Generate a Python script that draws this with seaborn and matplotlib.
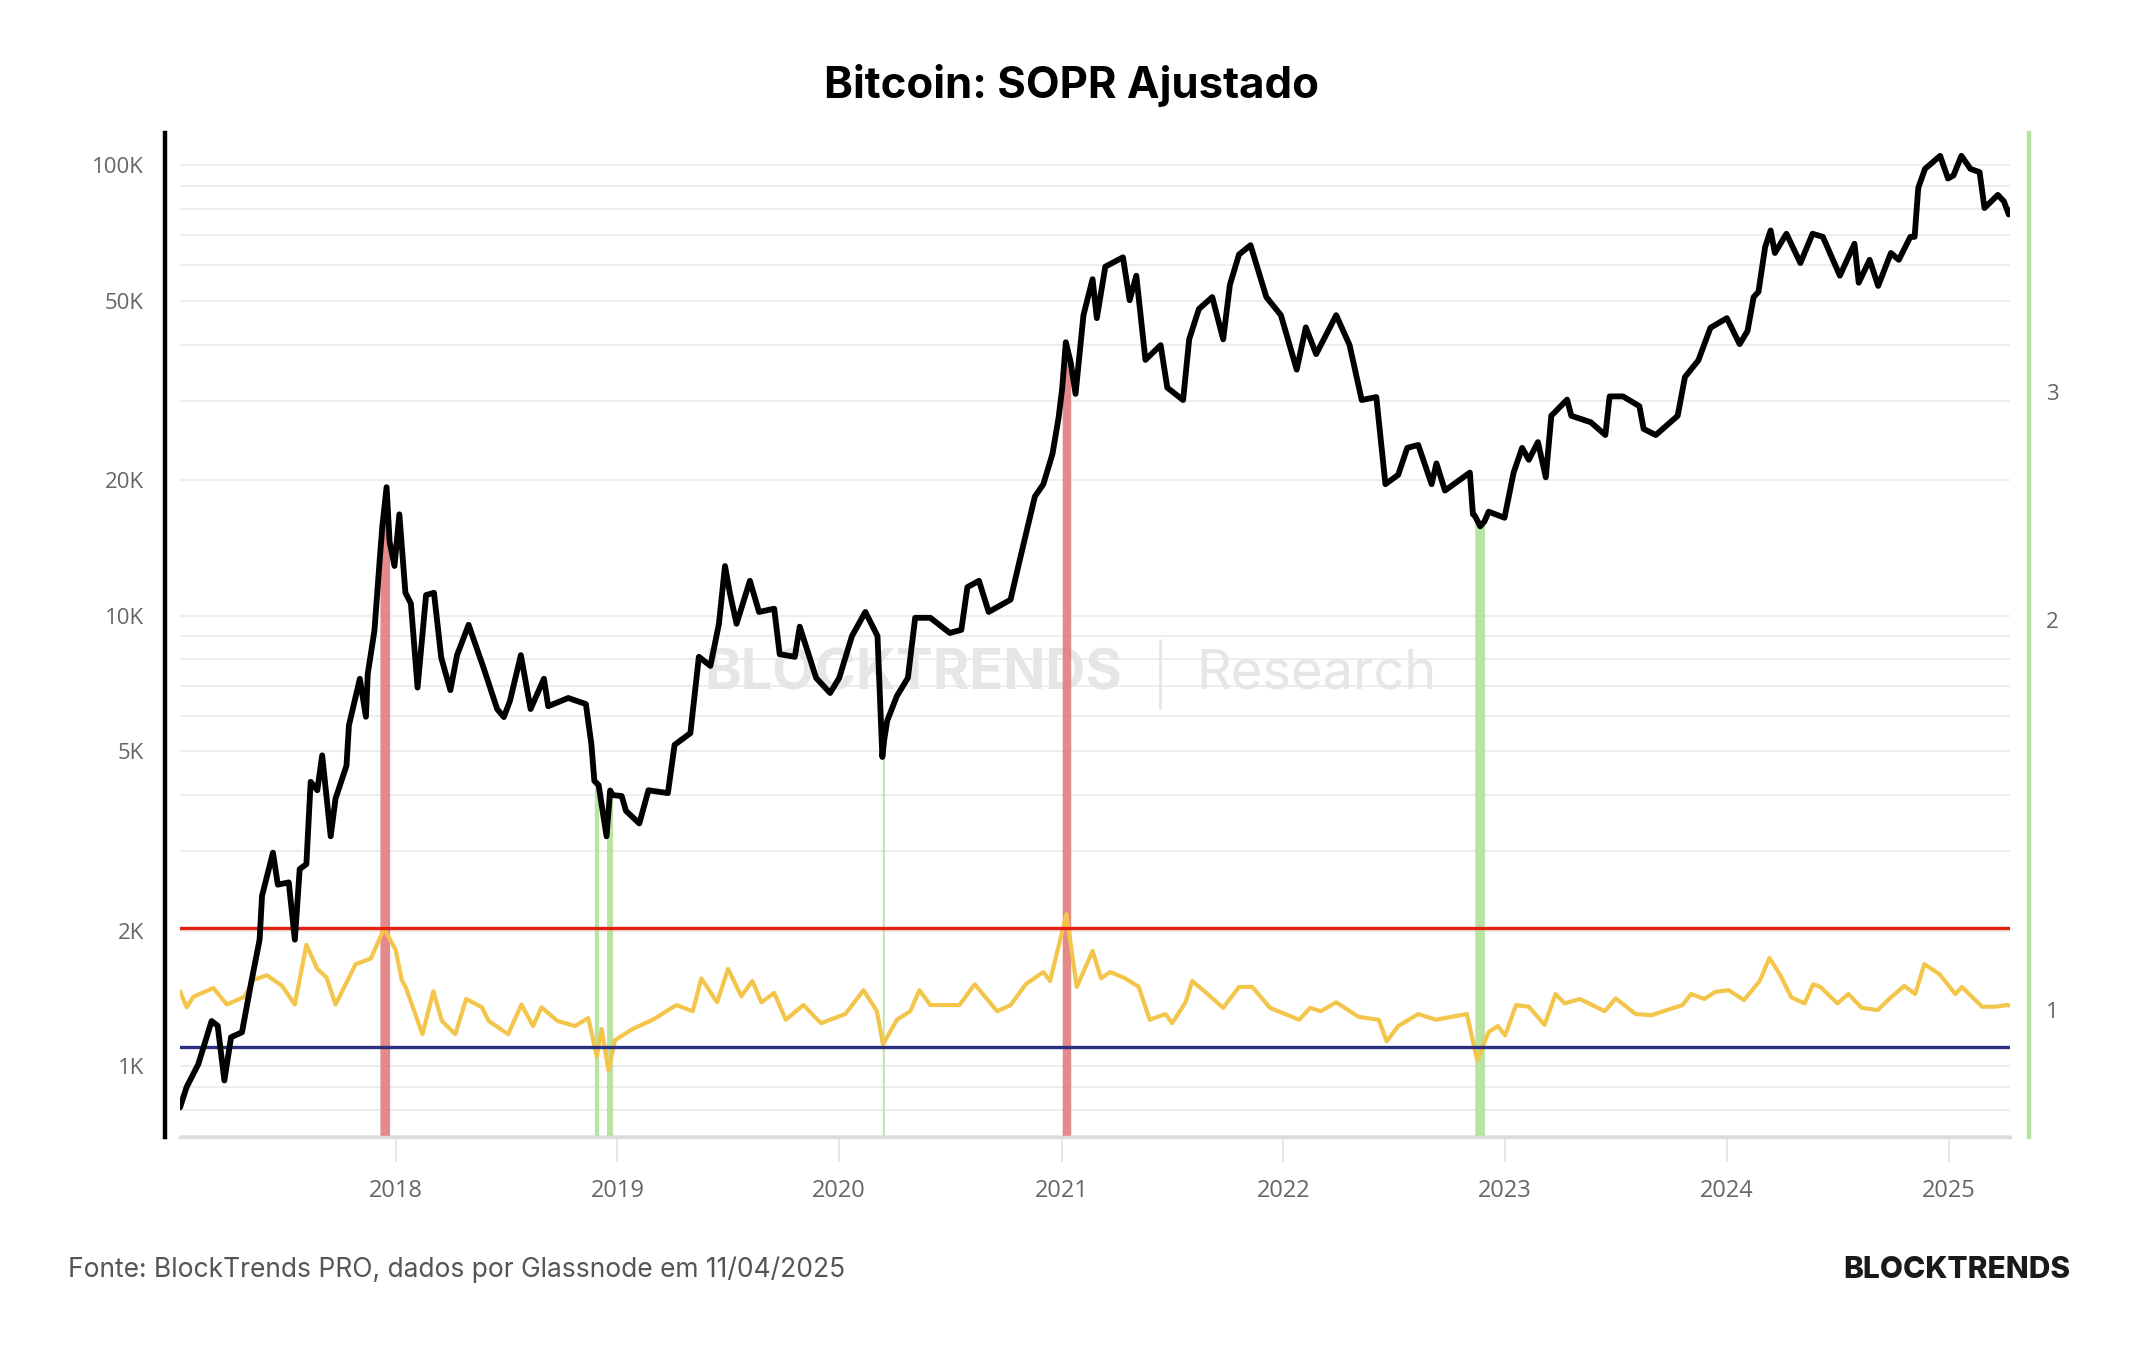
import matplotlib
matplotlib.use('Agg')
import matplotlib.pyplot as plt
import matplotlib.ticker as mticker
from matplotlib.lines import Line2D
import numpy as np
import pandas as pd
import seaborn as sns

# Bitcoin price (USD)
price_dates = [
    '2017-01-11', '2017-01-22', '2017-02-10', '2017-03-04', '2017-03-14', '2017-03-25', '2017-04-05',
    '2017-04-23', '2017-05-08', '2017-05-22', '2017-05-26', '2017-06-13', '2017-06-21', '2017-07-09',
    '2017-07-19', '2017-07-27', '2017-08-07', '2017-08-14', '2017-08-25', '2017-09-02', '2017-09-16',
    '2017-09-24', '2017-10-12', '2017-10-16', '2017-11-03', '2017-11-13', '2017-11-16', '2017-11-27',
    '2017-12-06', '2017-12-10', '2017-12-17', '2017-12-22', '2017-12-30', '2018-01-07', '2018-01-17',
    '2018-01-26', '2018-02-06', '2018-02-20', '2018-03-05', '2018-03-17', '2018-04-01', '2018-04-12',
    '2018-05-01', '2018-05-26', '2018-06-17', '2018-06-28', '2018-07-08', '2018-07-26', '2018-08-11',
    '2018-09-02', '2018-09-09', '2018-10-12', '2018-11-10', '2018-11-19', '2018-11-24', '2018-12-01',
    '2018-12-14', '2018-12-20', '2018-12-24', '2019-01-08', '2019-01-15', '2019-02-06', '2019-02-21',
    '2019-03-25', '2019-04-05', '2019-05-01', '2019-05-15', '2019-06-03', '2019-06-17', '2019-06-27',
    '2019-07-05', '2019-07-16', '2019-08-07', '2019-08-22', '2019-09-16', '2019-09-25', '2019-10-20',
    '2019-10-28', '2019-11-24', '2019-12-17', '2020-01-01', '2020-01-22', '2020-02-13', '2020-03-04',
    '2020-03-12', '2020-03-15', '2020-03-20', '2020-04-05', '2020-04-23', '2020-05-05', '2020-05-30',
    '2020-07-01', '2020-07-20', '2020-07-30', '2020-08-18', '2020-09-03', '2020-10-09', '2020-10-23',
    '2020-11-18', '2020-12-02', '2020-12-17', '2020-12-27', '2021-01-02', '2021-01-08', '2021-01-16',
    '2021-01-24', '2021-02-06', '2021-02-21', '2021-02-28', '2021-03-14', '2021-04-12', '2021-04-23',
    '2021-05-04', '2021-05-19', '2021-06-13', '2021-06-24', '2021-07-20', '2021-07-30', '2021-08-15',
    '2021-09-06', '2021-09-24', '2021-10-05', '2021-10-20', '2021-11-08', '2021-12-04', '2021-12-28',
    '2022-01-23', '2022-02-07', '2022-02-24', '2022-03-29', '2022-04-20', '2022-05-10', '2022-06-03',
    '2022-06-18', '2022-07-09', '2022-07-24', '2022-08-11', '2022-09-02', '2022-09-10', '2022-09-24',
    '2022-11-04', '2022-11-09', '2022-11-12', '2022-11-21', '2022-11-28', '2022-12-05', '2022-12-31',
    '2023-01-15', '2023-01-29', '2023-02-09', '2023-02-24', '2023-03-09', '2023-03-18', '2023-04-13',
    '2023-04-20', '2023-05-22', '2023-06-15', '2023-06-22', '2023-07-14', '2023-08-10', '2023-08-17',
    '2023-09-06', '2023-10-12', '2023-10-24', '2023-11-15', '2023-12-05', '2024-01-01', '2024-01-22',
    '2024-02-04', '2024-02-14', '2024-02-22', '2024-03-04', '2024-03-13', '2024-03-20', '2024-04-08',
    '2024-05-01', '2024-05-21', '2024-06-07', '2024-07-05', '2024-07-29', '2024-08-05', '2024-08-23',
    '2024-09-06', '2024-09-27', '2024-10-10', '2024-10-29', '2024-11-05', '2024-11-11', '2024-11-22',
    '2024-12-17', '2024-12-30', '2025-01-08', '2025-01-21', '2025-02-05', '2025-02-20', '2025-02-28',
    '2025-03-22', '2025-04-01', '2025-04-09', '2025-04-11',
]
price_values = [
    810, 900, 1010, 1260, 1230, 930, 1160,
    1190, 1530, 1910, 2390, 2980, 2530, 2560,
    1910, 2740, 2810, 4280, 4100, 4900, 3240,
    3930, 4650, 5710, 7250, 5970, 7430, 9270,
    13500, 15800, 19300, 14600, 12900, 16800, 11250,
    10650, 6930, 11120, 11250, 8070, 6840, 8180,
    9550, 7640, 6210, 5960, 6470, 8180, 6210,
    7250, 6300, 6570, 6370, 5200, 4300, 4210,
    3240, 4095, 4000, 3980, 3690, 3460, 4100,
    4040, 5170, 5490, 8110, 7740, 9600, 12900,
    11240, 9600, 11960, 10200, 10370, 8220, 8110,
    9460, 7280, 6740, 7280, 9020, 10200, 9020,
    4860, 5300, 5850, 6640, 7280, 9900, 9900,
    9160, 9310, 11580, 11960, 10200, 10860, 13100,
    18400, 19600, 22880, 27500, 32000, 40500, 36500,
    31100, 46500, 55900, 45800, 59600, 62500, 50200,
    56900, 37000, 39900, 32100, 30130, 41100, 48000,
    51000, 41100, 54300, 63400, 66500, 51000, 46500,
    35200, 43700, 38100, 46500, 39900, 30130, 30600,
    19600, 20560, 23600, 23950, 19600, 21800, 18970,
    20800, 16800, 16700, 15800, 16200, 17030, 16510,
    20800, 23600, 22200, 24300, 20300, 27800, 30200,
    27800, 26900, 25200, 30700, 30700, 29200, 26000,
    25200, 27800, 33900, 36900, 43600, 45800, 40100,
    42900, 51000, 52400, 65900, 71700, 63900, 70500,
    60700, 70500, 69400, 56900, 67000, 54900, 61700,
    54000, 63900, 61700, 69400, 69400, 89100, 98200,
    105000, 93500, 95000, 105000, 98200, 96600, 80400,
    86000, 83200, 77800, 79500,
]

# Adjusted SOPR (right axis)
sopr_dates = [
    '2017-01-11', '2017-01-22', '2017-02-02', '2017-03-07', '2017-03-29', '2017-04-27', '2017-05-12',
    '2017-06-03', '2017-06-28', '2017-07-19', '2017-08-07', '2017-08-25', '2017-09-09', '2017-09-24',
    '2017-10-27', '2017-11-21', '2017-12-13', '2018-01-01', '2018-01-11', '2018-01-18', '2018-02-14',
    '2018-03-04', '2018-03-18', '2018-04-09', '2018-04-27', '2018-05-23', '2018-06-03', '2018-07-05',
    '2018-07-27', '2018-08-15', '2018-08-29', '2018-09-24', '2018-10-23', '2018-11-14', '2018-11-28',
    '2018-12-06', '2018-12-17', '2018-12-28', '2019-01-26', '2019-02-28', '2019-04-08', '2019-05-05',
    '2019-05-19', '2019-06-14', '2019-07-02', '2019-07-24', '2019-08-11', '2019-08-26', '2019-09-16',
    '2019-10-05', '2019-11-03', '2019-12-02', '2020-01-11', '2020-02-10', '2020-03-03', '2020-03-13',
    '2020-04-05', '2020-04-27', '2020-05-12', '2020-05-30', '2020-07-17', '2020-08-11', '2020-09-17',
    '2020-10-09', '2020-11-03', '2020-12-02', '2020-12-13', '2021-01-09', '2021-01-26', '2021-02-21',
    '2021-03-07', '2021-03-22', '2021-04-16', '2021-05-08', '2021-05-26', '2021-06-21', '2021-07-02',
    '2021-07-24', '2021-08-04', '2021-08-22', '2021-09-24', '2021-10-20', '2021-11-11', '2021-12-10',
    '2022-01-27', '2022-02-14', '2022-03-04', '2022-03-29', '2022-05-05', '2022-06-07', '2022-06-20',
    '2022-07-09', '2022-08-11', '2022-09-09', '2022-10-30', '2022-11-16', '2022-12-05', '2022-12-20',
    '2023-01-01', '2023-01-19', '2023-02-09', '2023-03-07', '2023-03-25', '2023-04-09', '2023-05-04',
    '2023-06-14', '2023-07-02', '2023-08-04', '2023-08-30', '2023-09-24', '2023-10-20', '2023-11-03',
    '2023-11-25', '2023-12-13', '2024-01-04', '2024-01-29', '2024-02-24', '2024-03-11', '2024-03-28',
    '2024-04-16', '2024-05-08', '2024-05-22', '2024-06-03', '2024-07-01', '2024-07-19', '2024-08-10',
    '2024-09-05', '2024-09-27', '2024-10-19', '2024-11-06', '2024-11-21', '2024-12-16', '2025-01-11',
    '2025-01-22', '2025-02-24', '2025-03-17', '2025-04-06', '2025-04-11',
]
sopr_values = [
    1.034, 1.005, 1.024, 1.040, 1.010, 1.024, 1.055,
    1.064, 1.044, 1.010, 1.123, 1.076, 1.060, 1.010,
    1.085, 1.096, 1.156, 1.113, 1.055, 1.040, 0.958,
    1.034, 0.981, 0.958, 1.020, 1.005, 0.981, 0.958,
    1.010, 0.972, 1.005, 0.981, 0.972, 0.986, 0.921,
    0.967, 0.899, 0.948, 0.967, 0.983, 1.009, 0.998,
    1.058, 1.014, 1.076, 1.025, 1.053, 1.014, 1.031,
    0.983, 1.009, 0.977, 0.993, 1.036, 0.998, 0.941,
    0.983, 0.998, 1.036, 1.009, 1.009, 1.047, 0.998,
    1.009, 1.047, 1.070, 1.053, 1.186, 1.042, 1.111,
    1.058, 1.070, 1.058, 1.042, 0.983, 0.993, 0.977,
    1.014, 1.053, 1.036, 1.004, 1.042, 1.042, 1.004,
    0.983, 1.004, 0.998, 1.014, 0.988, 0.983, 0.946,
    0.972, 0.993, 0.983, 0.993, 0.915, 0.962, 0.972,
    0.956, 1.009, 1.006, 0.974, 1.029, 1.012, 1.020,
    0.998, 1.021, 0.993, 0.991, 1.000, 1.009, 1.029,
    1.020, 1.033, 1.036, 1.018, 1.053, 1.097, 1.066,
    1.023, 1.012, 1.047, 1.042, 1.012, 1.029, 1.004,
    1.000, 1.023, 1.044, 1.029, 1.085, 1.066, 1.029,
    1.042, 1.006, 1.006, 1.009, 1.008,
]

sopr_high = 1.157
sopr_low = 0.937

# periods where SOPR crossed the thresholds
red_periods = [('2017-12-06', '2017-12-22'), ('2021-01-02', '2021-01-16')]
green_periods = [('2018-11-24', '2018-12-01'), ('2018-12-14', '2018-12-24'),
                 ('2020-03-12', '2020-03-15'), ('2022-11-12', '2022-11-28')]

price_ticks = [1000, 2000, 5000, 10000, 20000, 50000, 100000]
price_tick_labels = ['1K', '2K', '5K', '10K', '20K', '50K', '100K']
sopr_ticks = [1, 2, 3]
years = list(range(2018, 2026))

price_df = pd.DataFrame({'date': pd.to_datetime(price_dates), 'price': price_values})
sopr_df = pd.DataFrame({'date': pd.to_datetime(sopr_dates), 'sopr': sopr_values})

sns.set_theme(style='white')
plt.rcParams['font.family'] = ['Open Sans', 'DejaVu Sans']

fig = plt.figure(figsize=(21.44, 13.5), dpi=100)
ax = fig.add_axes([0.08396, 0.15778, 0.85354, 0.74370])
ax2 = ax.twinx()
ax3 = ax.twinx()

price_lim = (696.6, 118000)
sopr_lim = (0.798, 4.757)
x_lim = (pd.Timestamp('2017-01-11'), pd.Timestamp('2025-04-11'))

# bottom layer: grid, watermark, bands
ax.set_yscale('log')
ax.set_ylim(*price_lim)
ax.set_xlim(*x_lim)
ax.yaxis.set_major_locator(mticker.FixedLocator(price_ticks))
ax.yaxis.set_major_formatter(mticker.FixedFormatter(price_tick_labels))
ax.yaxis.set_minor_locator(mticker.LogLocator(base=10, subs=np.arange(1, 10)))
ax.yaxis.set_minor_formatter(mticker.NullFormatter())
ax.yaxis.grid(True, which='both', color='#ededed', lw=1.4)
ax.xaxis.grid(False)

for s, e in red_periods:
    m = (price_df['date'] >= s) & (price_df['date'] <= e)
    ax.fill_between(price_df['date'], price_lim[0], price_df['price'], where=m,
                    color='#e27d7d', alpha=0.9, lw=0, zorder=2)
for s, e in green_periods:
    m = (price_df['date'] >= s) & (price_df['date'] <= e)
    ax.fill_between(price_df['date'], price_lim[0], price_df['price'], where=m,
                    color='#b4e29e', alpha=0.95, lw=0, zorder=2)

ax.text(0.5233, 0.5007, 'BLOCKTRENDS', transform=fig.transFigure, ha='right', va='center',
        fontsize=40, fontweight='bold', color='#e6e6e6', family=['Inter', 'DejaVu Sans'], zorder=1)
ax.text(0.5578, 0.5007, 'Research', transform=fig.transFigure, ha='left', va='center',
        fontsize=39, color='#e6e6e6', family=['Inter', 'DejaVu Sans'], zorder=1)
ax.add_artist(Line2D([0.541, 0.541], [0.4756, 0.5259], transform=fig.transFigure,
                     color='#e6e6e6', lw=2, zorder=1))

ax.set_xticks(pd.to_datetime([f'{y}-01-01' for y in years]))
ax.set_xticklabels([str(y) for y in years])
ax.tick_params(axis='y', which='both', length=0, pad=15, labelsize=16, labelcolor='#666666')
ax.tick_params(axis='x', bottom=True, length=18, width=1.2, color='#e2e2e2', pad=12,
               labelsize=17, labelcolor='#666666')
ax.set_xlabel('')
ax.set_ylabel('')
for side in ['top', 'right']:
    ax.spines[side].set_visible(False)
ax.spines['left'].set_color('black')
ax.spines['left'].set_linewidth(3.2)
ax.spines['left'].set_position(('outward', 11))
ax.spines['bottom'].set_color('#dcdcdc')
ax.spines['bottom'].set_linewidth(2.5)

# middle layer: SOPR and thresholds
sns.lineplot(data=sopr_df, x='date', y='sopr', ax=ax2, color='#f3c54a', lw=3.0)
ax2.axhline(sopr_high, color='#e3200f', lw=2.4)
ax2.axhline(sopr_low, color='#2b3080', lw=2.4)
ax2.set_yscale('log')
ax2.set_ylim(*sopr_lim)
ax2.set_xlim(*x_lim)
ax2.yaxis.set_major_locator(mticker.FixedLocator(sopr_ticks))
ax2.yaxis.set_major_formatter(mticker.FixedFormatter([str(t) for t in sopr_ticks]))
ax2.yaxis.set_minor_locator(mticker.NullLocator())
ax2.tick_params(axis='y', length=0, pad=12, labelsize=16, labelcolor='#666666')
ax2.set_xlabel('')
ax2.set_ylabel('')
for side in ['top', 'left', 'bottom']:
    ax2.spines[side].set_visible(False)
ax2.spines['right'].set_color('#b9e2a5')
ax2.spines['right'].set_linewidth(3.2)
ax2.spines['right'].set_position(('outward', 14))

# top layer: price line
sns.lineplot(data=price_df, x='date', y='price', ax=ax3, color='black', lw=4.2)
ax3.set_yscale('log')
ax3.set_ylim(*price_lim)
ax3.set_xlim(*x_lim)
ax3.yaxis.set_visible(False)
ax3.set_xlabel('')
for side in ax3.spines:
    ax3.spines[side].set_visible(False)

fig.text(0.5, 0.9363, 'Bitcoin: SOPR Ajustado', ha='center', va='center', fontsize=31.5,
         fontweight='bold', color='black', family=['Inter', 'DejaVu Sans'])
fig.text(0.0317, 0.0593, 'Fonte: BlockTrends PRO, dados por Glassnode em 11/04/2025',
         ha='left', va='center', fontsize=19, color='#555555', family=['Inter', 'DejaVu Sans'])
fig.text(0.9655, 0.0593, 'BLOCKTRENDS', ha='right', va='center', fontsize=21.5,
         fontweight='heavy', color='#1a1a1a', family=['Inter', 'DejaVu Sans'])

fig.savefig('out.png', dpi=100, facecolor='white')
